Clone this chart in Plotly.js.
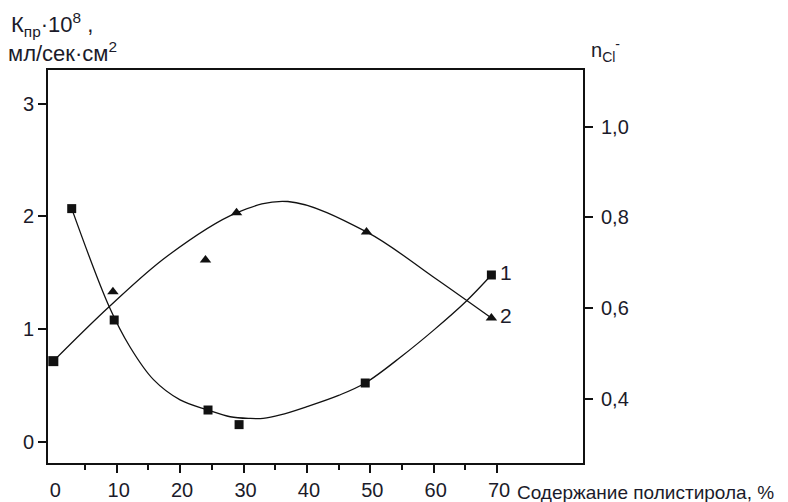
<!DOCTYPE html>
<html>
<head>
<meta charset="utf-8">
<script src="https://cdn.plot.ly/plotly-3.0.1.min.js"></script>
<style>html,body{margin:0;padding:0;background:#fff;}#chart{width:788px;height:502px;}</style>
</head>
<body>
<div id="chart"></div>
<script>
// ---- data ----
const xTickVals = [10, 20, 30, 40, 50, 60, 70];
const xMinorTickVals = [5, 15, 25, 35, 45, 55, 65];
const xLabelVals = [0, 10, 20, 30, 40, 50, 60, 70];
const xLabelText = ['0', '10', '20', '30', '40', '50', '60', '70'];
const kTickVals = [0, 1, 2, 3];
const nTickVals = [0.4, 0.6, 0.8, 1.0];
const nTickText = ['0,4', '0,6', '0,8', '1,0'];

// series 1: permeability K (left axis), squares
const squaresX = [2.9, 9.6, 24.4, 29.3, 49.2, 69.1];
const squaresK = [2.07, 1.08, 0.28, 0.15, 0.52, 1.48];
// series 2: n_Cl- (right axis), triangles
const trianglesX = [0, 9.4, 24.0, 28.9, 49.4, 69.1];
const trianglesN = [0.483, 0.636, 0.706, 0.81, 0.768, 0.578];

// fitted curves
const curve1X = [2.9, 8.8, 12.1, 15.8, 20.0, 24.4, 27.9, 31.0, 33.1, 35.8, 40, 45, 49.2, 55, 60, 65, 69.1];
const curve1K = [2.07, 1.20, 0.84, 0.55, 0.37, 0.28, 0.22, 0.205, 0.206, 0.236, 0.31, 0.41, 0.52, 0.76, 0.99, 1.24, 1.48];
const curve2X = [0, 8.8, 18.0, 28.9, 37.0, 49.4, 60.0, 69.1];
const curve2N = [0.483, 0.603, 0.715, 0.81, 0.835, 0.768, 0.668, 0.578];

const curveLabels = ['1', '2'];
const leftTitle1 = 'К<sub>пр</sub>·10<sup>8</sup> ,';
const leftTitle2 = 'мл/сек·см<sup>2</sup>';
const rightTitle = 'n<sub>Cl</sub><sup>-</sup>';
const xTitle = 'Содержание полистирола, %';

// ---- styles ----
const ink = '#111';
const labelColor = '#1b1b2a';
const font = 'Liberation Sans, Arial, sans-serif';

const lastSq = squaresX.length - 1;
const lastTr = trianglesX.length - 1;

const traces = [
  {x: curve1X, y: curve1K, xaxis: 'x', yaxis: 'y', mode: 'lines',
   line: {color: ink, width: 1.3, shape: 'spline', smoothing: 1}, hoverinfo: 'skip', showlegend: false},
  {x: curve2X, y: curve2N, xaxis: 'x', yaxis: 'y2', mode: 'lines',
   line: {color: ink, width: 1.3, shape: 'spline', smoothing: 1}, hoverinfo: 'skip', showlegend: false},
  {x: squaresX, y: squaresK, xaxis: 'x', yaxis: 'y', mode: 'markers',
   marker: {symbol: 'square', size: 9, color: ink}, cliponaxis: false, showlegend: false},
  {x: trianglesX, y: trianglesN, xaxis: 'x', yaxis: 'y2', mode: 'markers',
   marker: {symbol: trianglesX.map((_, i) => i === 0 ? 'square' : 'triangle-up'), size: 10, color: ink},
   cliponaxis: false, showlegend: false},
  // curve number labels at the last point of each series
  {x: [squaresX[lastSq]], y: [squaresK[lastSq]], xaxis: 'x', yaxis: 'y', mode: 'markers+text',
   marker: {size: 12, opacity: 0}, text: [curveLabels[0]], textposition: 'middle right',
   textfont: {family: font, size: 21, color: labelColor}, cliponaxis: false, showlegend: false},
  {x: [trianglesX[lastTr]], y: [trianglesN[lastTr]], xaxis: 'x', yaxis: 'y2', mode: 'markers+text',
   marker: {size: 12, opacity: 0}, text: [curveLabels[1]], textposition: 'middle right',
   textfont: {family: font, size: 21, color: labelColor}, cliponaxis: false, showlegend: false},
  // carrier for the tick-label axis
  {x: [xLabelVals[0]], y: [kTickVals[0]], xaxis: 'x2', yaxis: 'y', mode: 'markers',
   marker: {opacity: 0}, hoverinfo: 'skip', showlegend: false}
];

const xRange = [-0.84, 83.55];

const layout = {
  width: 788, height: 502, autosize: false,
  margin: {l: 48, r: 205, t: 70, b: 39, pad: 0},
  paper_bgcolor: '#fff', plot_bgcolor: '#fff',
  font: {family: font, color: labelColor, size: 20},
  showlegend: false,
  xaxis: {
    range: xRange, showgrid: false, zeroline: false,
    showline: true, linecolor: ink, linewidth: 2, mirror: true,
    tickmode: 'array', tickvals: xTickVals, showticklabels: false,
    ticks: 'outside', ticklen: 8, tickwidth: 2, tickcolor: ink,
    minor: {tickmode: 'array', tickvals: xMinorTickVals, ticks: 'outside', ticklen: 5, tickwidth: 2, tickcolor: ink, showgrid: false}
  },
  xaxis2: {
    overlaying: 'x', anchor: 'y', side: 'bottom', range: xRange,
    showgrid: false, zeroline: false, showline: false,
    tickmode: 'array', tickvals: xLabelVals, ticktext: xLabelText,
    ticks: 'outside', ticklen: 9, tickcolor: 'rgba(0,0,0,0)',
    tickfont: {family: font, size: 20, color: labelColor}, ticklabelshift: 2
  },
  yaxis: {
    range: [-0.191, 3.302], showgrid: false, zeroline: false,
    showline: true, linecolor: ink, linewidth: 2,
    tickmode: 'array', tickvals: kTickVals,
    ticks: 'outside', ticklen: 8, tickwidth: 2, tickcolor: ink,
    tickfont: {family: font, size: 20, color: labelColor}
  },
  yaxis2: {
    overlaying: 'y', side: 'right', anchor: 'x', range: [0.2584, 1.125],
    showgrid: false, zeroline: false,
    showline: true, linecolor: ink, linewidth: 2,
    tickmode: 'array', tickvals: nTickVals, ticktext: nTickText,
    ticks: 'outside', ticklen: 8, tickwidth: 2, tickcolor: ink,
    ticklabelstandoff: 4,
    tickfont: {family: font, size: 20, color: labelColor}
  },
  annotations: [
    {xref: 'paper', yref: 'paper', x: -0.072, y: 1.117, xanchor: 'left', yanchor: 'middle',
     text: leftTitle1, showarrow: false, font: {family: font, size: 22, color: labelColor}},
    {xref: 'paper', yref: 'paper', x: -0.078, y: 1.046, xanchor: 'left', yanchor: 'middle',
     text: leftTitle2, showarrow: false, font: {family: font, size: 22, color: labelColor}},
    {xref: 'paper', yref: 'paper', x: 1.011, y: 1.05, xanchor: 'left', yanchor: 'middle',
     text: rightTitle, showarrow: false, font: {family: font, size: 20, color: labelColor}},
    {xref: 'paper', yref: 'paper', x: 0.872, y: -0.074, xanchor: 'left', yanchor: 'middle',
     text: xTitle, showarrow: false, font: {family: font, size: 19, color: labelColor}}
  ]
};

Plotly.newPlot('chart', traces, layout, {displayModeBar: false, staticPlot: true});
</script>
</body>
</html>
